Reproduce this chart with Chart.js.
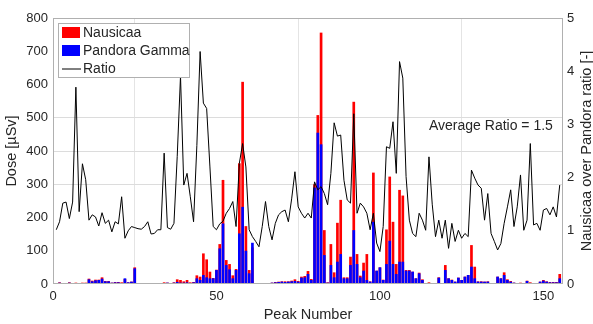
<!DOCTYPE html>
<html>
<head>
<meta charset="utf-8">
<script src="https://cdn.jsdelivr.net/npm/chart.js@4.4.1/dist/chart.umd.min.js"></script>
<style>
html, body { margin: 0; padding: 0; background: #fff; }
</style>
</head>
<body>
<canvas id="chart" width="593" height="324"></canvas>
<script>
// dose per peak [µSv] (peak 1..155)
const nausicaaDose = [
    3, 5, 3, 3, 5, 3, 4, 3, 4, 4,
    16, 10, 13, 13, 20, 9, 9, 4, 6, 6,
    5, 15, 5, 7, 50, 1, 1, 1, 2, 2,
    1, 2, 2, 5, 4, 2, 5, 14, 12, 8,
    12, 5, 6, 26, 22, 92, 74, 37, 18, 43,
    120, 313, 72, 60, 26, 45, 363, 608, 174, 42,
    110, 2, 2, 3, 3, 3, 4, 6, 7, 8,
    8, 8, 10, 14, 9, 22, 24, 39, 15, 300,
    508, 756, 162, 5, 120, 35, 184, 253, 20, 20,
    82, 548, 90, 25, 64, 90, 8, 335, 40, 50,
    13, 164, 323, 187, 60, 283, 266, 42, 42, 37,
    17, 34, 14, 3, 5, 3, 2, 20, 3, 57,
    17, 13, 7, 19, 12, 22, 27, 117, 52, 8,
    8, 7, 8, 2, 2, 22, 17, 35, 14, 9,
    4, 3, 4, 2, 10, 5, 3, 3, 7, 12,
    8, 6, 6, 6, 30
];
const pandoraDose = [
    3, 4, 2, 2, 4, 2, 1, 2, 2, 2,
    14, 8, 11, 12, 16, 8, 8, 4, 5, 5,
    3, 17, 5, 7, 47, 1, 1, 1, 2, 2,
    1, 2, 2, 2, 4, 2, 4, 6, 4, 4,
    5, 3, 5, 17, 12, 27, 20, 17, 17, 42,
    107, 182, 57, 44, 17, 42, 152, 232, 100, 32,
    124, 2, 2, 3, 2, 3, 4, 5, 6, 7,
    6, 7, 8, 9, 7, 19, 20, 30, 12, 290,
    455, 420, 87, 4, 57, 20, 67, 90, 17, 17,
    57, 162, 60, 20, 40, 12, 7, 187, 40, 50,
    12, 60, 130, 60, 30, 67, 67, 40, 40, 37,
    17, 32, 12, 3, 2, 2, 2, 19, 3, 42,
    17, 12, 7, 19, 12, 22, 27, 52, 17, 7,
    7, 7, 7, 2, 2, 22, 17, 27, 12, 7,
    4, 2, 2, 2, 9, 2, 3, 3, 7, 10,
    7, 5, 5, 5, 17
];
// Nausicaa over Pandora ratio per peak
const ratio = [
    1.02, 1.17, 1.52, 1.54, 1.23, 1.54, 3.70, 1.36, 2.26, 1.96,
    1.20, 1.30, 1.26, 1.09, 1.34, 1.14, 1.20, 0.98, 1.17, 1.13,
    1.64, 0.86, 1.00, 1.08, 1.06, 1.04, 1.03, 1.08, 1.17, 0.94,
    0.95, 1.02, 1.02, 2.46, 1.06, 1.03, 1.14, 2.40, 3.91, 1.86,
    2.08, 1.64, 1.17, 2.60, 4.37, 3.40, 3.30, 2.20, 1.08, 1.02,
    1.13, 1.18, 1.33, 1.42, 1.55, 1.08, 2.27, 2.64, 2.20, 1.02,
    0.89, 0.80, 0.70, 1.08, 1.55, 1.08, 0.83, 1.14, 1.30, 1.36,
    1.39, 1.17, 1.60, 2.11, 1.45, 1.33, 1.24, 1.33, 1.24, 1.92,
    1.77, 1.83, 1.70, 1.49, 2.08, 3.03, 2.78, 2.80, 1.95, 1.58,
    1.52, 3.20, 1.33, 1.52, 1.45, 1.33, 1.02, 1.33, 0.77, 0.61,
    1.08, 2.58, 2.55, 3.05, 2.08, 4.18, 3.87, 2.02, 1.20, 0.95,
    0.89, 1.33, 1.20, 1.01, 2.39, 1.50, 0.89, 1.20, 0.86, 1.20,
    0.67, 1.14, 0.80, 1.01, 0.86, 0.95, 0.89, 2.14, 1.99, 1.86,
    1.80, 1.20, 1.70, 0.95, 0.80, 0.64, 0.76, 1.14, 1.45, 1.77,
    1.08, 1.45, 2.05, 1.01, 1.20, 2.64, 1.11, 1.14, 1.01, 1.39,
    1.42, 1.30, 1.45, 1.26, 1.86
];
const peakNumbers = ratio.map((_, i) => i + 1);
const xTicks = [0, 50, 100, 150];
const doseGrid = [300, 400, 500];
const averageRatio = 1.5;

const textColor = '#262626';
const fontFamily = '"Liberation Sans", Arial, Helvetica, sans-serif';

const toPoints = values => peakNumbers.map((x, i) => ({ x, y: values[i] }));

// frame, legend, average text and right-hand title
const extras = {
    id: 'extras',
    afterDatasetsDraw(chart) {
        const { ctx, chartArea: a } = chart;
        ctx.save();
        ctx.strokeStyle = '#b0b0b0';
        ctx.lineWidth = 1;
        ctx.strokeRect(Math.round(a.left) + 0.5, Math.round(a.top) + 0.5,
            Math.round(a.right - a.left) - 1, Math.round(a.bottom - a.top) - 1);
        ctx.restore();
    },
    afterDraw(chart) {
        const { ctx, chartArea: a } = chart;
        ctx.save();

        // legend box
        const bx = a.left + 5, by = a.top + 5;
        ctx.fillStyle = '#fff';
        ctx.fillRect(bx, by, 131, 54);
        ctx.strokeStyle = '#b0b0b0';
        ctx.strokeRect(bx + 0.5, by + 0.5, 131, 54);
        const ds = chart.data.datasets;
        ctx.font = '14px ' + fontFamily;
        ctx.textBaseline = 'middle';
        ds.forEach((d, i) => {
            const y = by + 9.5 + i * 18;
            if (d.type === 'line') {
                ctx.strokeStyle = d.borderColor;
                ctx.lineWidth = 1;
                ctx.beginPath();
                ctx.moveTo(bx + 4, y + 0.5);
                ctx.lineTo(bx + 23, y + 0.5);
                ctx.stroke();
            } else {
                ctx.fillStyle = d.backgroundColor;
                ctx.fillRect(bx + 4, y - 5.5, 18, 11);
            }
            ctx.fillStyle = textColor;
            ctx.fillText(d.label, bx + 25, y + 1);
        });

        // average ratio note
        ctx.fillStyle = textColor;
        ctx.font = '14px ' + fontFamily;
        ctx.fillText('Average Ratio = ' + averageRatio, 429, 126);

        // right axis title, reading upwards
        ctx.translate(587, (a.top + a.bottom) / 2);
        ctx.rotate(-Math.PI / 2);
        ctx.textAlign = 'center';
        ctx.font = '14.5px ' + fontFamily;
        ctx.fillText('Nausicaa over Pandora ratio [-]', 0, 0);
        ctx.restore();
    }
};

new Chart(document.getElementById('chart'), {
    type: 'bar',
    data: {
        datasets: [
            {
                label: 'Nausicaa',
                data: toPoints(nausicaaDose),
                backgroundColor: '#ff0000',
                grouped: false,
                barPercentage: 1,
                categoryPercentage: 0.82,
                yAxisID: 'y',
                order: 2
            },
            {
                label: 'Pandora Gamma',
                data: toPoints(pandoraDose),
                backgroundColor: '#0000ff',
                grouped: false,
                barPercentage: 1,
                categoryPercentage: 0.82,
                yAxisID: 'y',
                order: 1
            },
            {
                type: 'line',
                label: 'Ratio',
                data: toPoints(ratio),
                borderColor: '#000000',
                borderWidth: 1,
                pointRadius: 0,
                tension: 0,
                yAxisID: 'y1',
                order: 0
            }
        ]
    },
    options: {
        responsive: false,
        animation: false,
        devicePixelRatio: 1,
        layout: { padding: { top: 18, left: 0, right: 0, bottom: 0 } },
        plugins: { legend: { display: false }, tooltip: { enabled: false } },
        scales: {
            x: {
                type: 'linear',
                min: 0,
                max: 156,
                offset: false,
                afterBuildTicks: s => { s.ticks = xTicks.map(v => ({ value: v })); },
                afterFit: s => { s.height = 40; },
                grid: {
                    color: c => (c.tick && c.tick.value > 0 ? '#e4e4e4' : 'rgba(0,0,0,0)'),
                    drawTicks: false
                },
                border: { display: false },
                ticks: { color: textColor, padding: 5, maxRotation: 0, font: { size: 13, family: fontFamily } },
                title: {
                    display: true,
                    text: 'Peak Number',
                    color: textColor,
                    padding: { top: 0, bottom: 2 },
                    font: { size: 14.5, family: fontFamily, lineHeight: 1 }
                }
            },
            y: {
                position: 'left',
                min: 0,
                max: 800,
                afterFit: s => { s.width = 53; },
                grid: {
                    color: c => (c.tick && doseGrid.includes(c.tick.value) ? '#dcdcdc' : 'rgba(0,0,0,0)'),
                    drawTicks: false
                },
                border: { display: false },
                ticks: { stepSize: 100, color: textColor, padding: 5, font: { size: 13, family: fontFamily } },
                title: {
                    display: true,
                    text: 'Dose [µSv]',
                    color: textColor,
                    padding: { top: 5, bottom: 0 },
                    font: { size: 14.5, family: fontFamily, lineHeight: 1 }
                }
            },
            y1: {
                position: 'right',
                min: 0,
                max: 5,
                afterFit: s => { s.width = 30; },
                grid: { drawOnChartArea: false, drawTicks: false },
                border: { display: false },
                ticks: { stepSize: 1, color: textColor, padding: 4, font: { size: 13, family: fontFamily } }
            }
        }
    },
    plugins: [extras]
});
</script>
</body>
</html>
